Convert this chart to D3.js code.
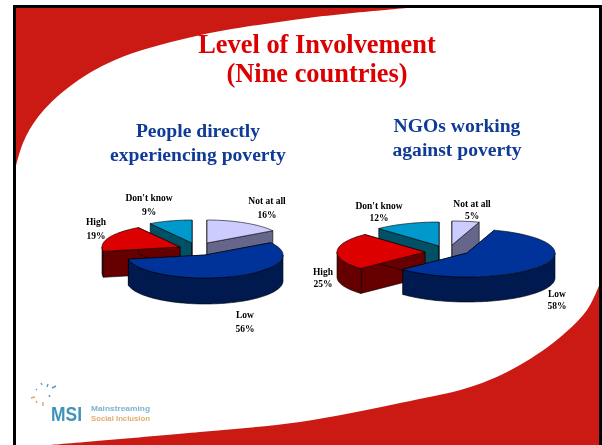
<!DOCTYPE html>
<html><head><meta charset="utf-8">
<script src="https://cdn.jsdelivr.net/npm/d3@7/dist/d3.min.js"></script>
<style>html,body{margin:0;padding:0;background:#fff}svg{display:block;filter:blur(.3px)}text{font-family:"Liberation Serif",serif;font-weight:bold}</style>
</head><body><svg id="c" width="602" height="445"></svg>
<script>
const categories = ["Not at all","Low","High","Don't know"];
const peopleValues = [16,56,19,9];
const ngoValues = [5,58,25,12];
const topColors = ["#ccccff","#003399","#dd0000","#0099cc"];
const sideColors = ["#66668a","#001a4f","#660000","#005066"];
const drawOrder = [0,3,2,1];

const svg = d3.select("#c");
svg.append("rect").attr("width",602).attr("height",445).attr("fill","#fff");

// Slide decoration
const swooshTop = [[15,170],[23,143],[38,117],[69,87],[115,60],[192,37],[308,18],[419,7]];
const swooshBottom = [[50,445],[200,432],[300,422],[400,403],[467,388],[507,372],[553,343],[587,310],[600,283]];
const curve = d3.line().curve(d3.curveCatmullRom.alpha(.5));
svg.append("path").attr("fill","#cb1a14")
  .attr("d",curve(swooshTop)+"L15,7Z");
svg.append("path").attr("fill","#cb1a14")
  .attr("d",curve(swooshBottom)+"L600,445Z");
svg.append("path").attr("fill","none").attr("stroke","#000").attr("stroke-width",3)
  .attr("d","M14.5,447V6.5H600.5V447");

// Titles
const title = (t,x,y,s,c)=>svg.append("text").attr("x",x).attr("y",y).attr("text-anchor","middle")
  .attr("font-size",s).attr("fill",c).text(t);
title("Level of Involvement",317,53,26.4,"#dd0000");
title("(Nine countries)",317,82,26.4,"#dd0000");
title("People directly",198,137,19.6,"#0f3a96");
title("experiencing poverty",198,161,19.6,"#0f3a96");
title("NGOs working",457,132,19.6,"#0f3a96");
title("against poverty",457,156,19.6,"#0f3a96");

function pie3d(values, cfg){
  const arcs = d3.pie().sort(null).startAngle(0).endAngle(2*Math.PI)(values);
  const g = svg.append("g");
  const {rx,ry,depth,centers} = cfg;
  const pt=(c,a,dy=0)=>[c[0]+rx*Math.sin(a), c[1]-ry*Math.cos(a)+dy];
  const arcPts=(c,a0,a1,dy=0)=>{
    const n=Math.max(2,Math.ceil((a1-a0)/0.03));
    return d3.range(n+1).map(i=>pt(c,a0+(a1-a0)*i/n,dy));
  };
  const line=d3.line();
  drawOrder.forEach(i=>{
    const a=arcs[i], c=centers[i];
    const wall=pts=>g.append("path").attr("d",line(pts)+"Z").attr("fill",sideColors[i])
      .attr("stroke","#000").attr("stroke-width",.6).attr("stroke-linejoin","round");
    [a.startAngle,a.endAngle].forEach(t=>{
      const p=pt(c,t);
      wall([c,p,[p[0],p[1]+depth],[c[0],c[1]+depth]]);
    });
    const f0=Math.max(a.startAngle,Math.PI/2), f1=Math.min(a.endAngle,Math.PI*1.5);
    if(f1>f0) wall(arcPts(c,f0,f1).concat(arcPts(c,f0,f1,depth).reverse()));
    g.append("path").attr("d",line([c].concat(arcPts(c,a.startAngle,a.endAngle)))+"Z")
      .attr("fill",topColors[i]).attr("stroke","#000").attr("stroke-width",.6).attr("stroke-linejoin","round");
  });
  values.forEach((v,i)=>{
    const [x,y]=cfg.labels[i];
    const t=g.append("text").attr("text-anchor","middle").attr("font-size",9.5).attr("fill","#000");
    t.append("tspan").attr("x",x).attr("y",y).text(categories[i]);
    t.append("tspan").attr("x",x).attr("y",y+cfg.lh).text(v+"%");
  });
}

pie3d(peopleValues,{rx:78,ry:23,depth:26,lh:14,
  centers:[[207,243],[205,255],[180,247],[192,243]],
  labels:[[267,204],[245,318],[96,225],[149,201]]});
pie3d(ngoValues,{rx:88,ry:24,depth:25,lh:12,
  centers:[[452,245],[467,253],[425,252],[439,246]],
  labels:[[472,207],[557,297],[323,275],[379,209]]});

// Logo
const logo = svg.append("g");
const sans = "'Liberation Sans',sans-serif";
logo.append("text").attr("x",51).attr("y",421).attr("font-size",20).attr("fill","#3f92b8")
  .attr("textLength",31).attr("lengthAdjust","spacingAndGlyphs").style("font-family",sans).text("MSI");
logo.append("text").attr("x",91).attr("y",411).attr("font-size",7.5).attr("fill","#7fb2cc")
  .attr("textLength",59).attr("lengthAdjust","spacingAndGlyphs").style("font-family",sans).text("Mainstreaming");
logo.append("text").attr("x",91).attr("y",421).attr("font-size",7.5).attr("fill","#e0ab70")
  .attr("textLength",59).attr("lengthAdjust","spacingAndGlyphs").style("font-family",sans).text("Social Inclusion");
const sparks=[[41,383,42,385,"#5c9dba"],[48,384,47,387,"#5c9dba"],[56,386,52,388,"#5c9dba"],[36,389,37,390,"#5c9dba"],[49,395,50,397,"#5c9dba"],[31,398,35,397,"#e3a35f"],[36,401,37,403,"#e3a35f"],[43,402,43,406,"#e3a35f"]];
logo.selectAll("line").data(sparks).join("line").attr("x1",d=>d[0]).attr("y1",d=>d[1]).attr("x2",d=>d[2]).attr("y2",d=>d[3])
  .attr("stroke",d=>d[4]).attr("stroke-width",1.4);
</script></body></html>
